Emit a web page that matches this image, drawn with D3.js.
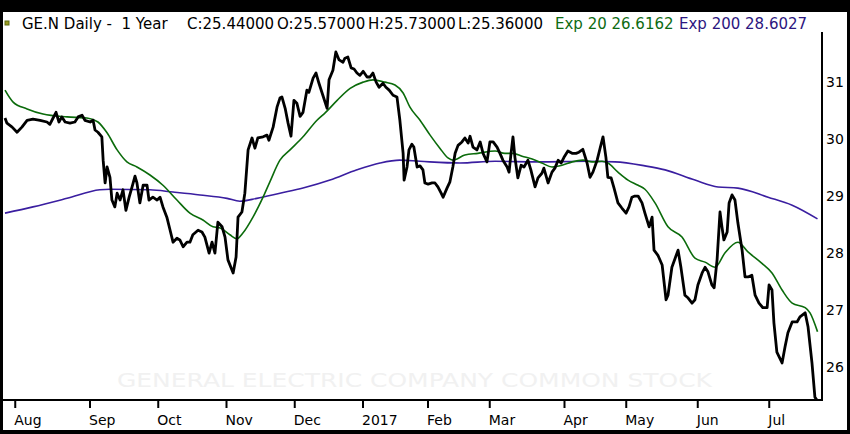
<!DOCTYPE html>
<html>
<head>
<meta charset="utf-8">
<script src="https://cdn.jsdelivr.net/npm/d3@7"></script>
<style>
  body { margin: 0; background: #000; overflow: hidden; }
  svg { display: block; font-family: "DejaVu Sans", sans-serif; }
  .hdr { white-space: pre; }
</style>
</head>
<body>
<svg id="chart" width="850" height="434"></svg>
<script>
// trading-day index (0 = last days of Jul 2016) and close price
var closePts = [
  [0,30.37],[0.6,30.28],[2.2,30.21],[3.7,30.12],[5.2,30.21],[6.8,30.33],[8.6,30.35],[10.8,30.33],[12.9,30.30],[13.8,30.26],
  [14.8,30.37],[15.7,30.47],[16.6,30.30],[17.5,30.39],[18.5,30.30],[20.0,30.28],[21.5,30.30],[22.5,30.39],[23.7,30.42],[24.6,30.33],
  [26.2,30.30],[27.1,30.33],[27.7,30.16],[28.6,30.12],[29.8,30.04],[30.2,29.63],[30.8,29.23],[31.4,29.51],[32.3,29.33],[32.9,28.93],
  [33.8,28.81],[34.5,29.05],[35.4,28.93],[36.3,29.11],[37.2,28.75],[38.2,28.98],[39.1,29.16],[40.0,29.35],[40.6,29.23],[41.5,28.88],
  [42.5,29.19],[43.7,29.19],[44.3,28.93],[45.5,28.98],[46.8,28.93],[47.7,28.98],[48.6,28.81],[49.8,28.63],[50.8,28.40],[51.7,28.19],
  [52.9,28.26],[53.8,28.23],[54.8,28.11],[56.0,28.19],[56.9,28.19],[57.8,28.32],[59.4,28.40],[60.6,28.37],[61.5,28.28],[62.8,28.00],
  [63.7,28.19],[64.6,28.00],[65.5,28.54],[66.8,28.46],[67.7,28.28],[68.6,27.88],[70.2,27.65],[71.1,27.93],[71.7,28.63],[72.9,28.72],
  [73.8,29.05],[74.8,29.81],[76.0,30.02],[76.9,29.84],[77.8,30.02],[79.4,30.04],[80.6,30.07],[81.2,29.98],[82.5,30.21],[83.7,30.56],
  [84.6,30.72],[85.2,30.74],[86.2,30.54],[87.1,30.28],[88.0,30.05],[88.9,30.68],[89.8,30.63],[90.8,30.40],[91.7,30.47],[92.9,30.86],
  [93.5,30.82],[94.8,31.07],[95.7,31.16],[96.6,30.98],[97.8,30.77],[99.1,30.54],[99.7,31.04],[100.9,31.21],[101.8,31.53],[102.8,31.39],
  [104.0,31.35],[104.6,31.42],[105.5,31.44],[106.5,31.25],[107.4,31.23],[108.3,31.16],[109.2,31.12],[110.2,31.19],[111.4,31.09],[112.3,31.09],
  [113.2,31.16],[114.2,31.00],[115.1,30.91],[116.3,30.98],[117.2,30.91],[118.2,30.86],[119.4,30.77],[120.6,30.74],[121.5,30.33],[122.5,29.75],
  [122.8,29.28],[123.7,29.51],[124.3,29.81],[125.2,29.91],[125.8,29.86],[126.8,29.51],[127.7,29.53],[128.6,29.46],[129.2,29.23],[130.2,29.21],
  [131.4,29.23],[132.3,29.23],[133.2,29.16],[134.2,29.05],[134.8,28.98],[136.0,29.14],[136.9,29.25],[137.8,29.51],[138.5,29.75],[139.4,29.89],
  [140.6,29.95],[141.5,30.02],[142.5,29.93],[143.1,30.05],[144.0,29.86],[145.2,29.81],[146.2,29.95],[147.1,29.75],[148.3,29.60],[149.2,29.95],
  [150.2,29.95],[151.4,29.86],[152.3,29.75],[153.2,29.63],[154.5,29.51],[155.1,29.42],[155.7,29.75],[156.3,30.04],[156.9,29.68],[157.8,29.32],
  [158.8,29.54],[159.7,29.51],[160.9,29.63],[161.8,29.46],[163.1,29.16],[164.0,29.32],[165.2,29.40],[165.8,29.49],[167.1,29.23],[168.3,29.42],
  [169.2,29.49],[170.2,29.63],[171.1,29.58],[172.0,29.68],[173.2,29.79],[174.5,29.75],[175.7,29.75],[176.6,29.77],[177.8,29.82],[179.1,29.58],
  [180.0,29.33],[180.9,29.42],[182.2,29.63],[183.1,29.84],[184.0,30.04],[184.9,29.68],[185.5,29.33],[186.5,29.32],[187.4,29.14],[188.6,28.88],
  [189.8,28.79],[191.1,28.70],[192.0,28.81],[192.9,28.98],[193.8,29.00],[194.8,29.00],[196.0,28.88],[196.9,28.70],[198.2,28.46],[199.1,28.63],
  [199.7,28.05],[200.9,27.96],[202.2,27.79],[203.4,27.18],[204.0,27.26],[205.2,27.75],[206.2,27.91],[207.1,28.05],[208.0,27.74],[209.2,27.26],
  [210.2,27.21],[211.4,27.12],[212.3,27.18],[213.2,27.44],[214.5,27.65],[215.4,27.75],[216.3,27.67],[217.5,27.44],[218.2,27.39],[219.1,27.88],
  [220.0,28.72],[220.6,28.46],[221.2,28.23],[222.2,28.37],[222.8,28.88],[223.7,29.02],[224.6,28.93],[225.5,28.53],[226.8,28.05],[227.7,27.58],
  [228.6,27.58],[229.8,27.61],[230.8,27.26],[232.0,27.12],[233.2,27.04],[234.5,27.04],[235.1,27.44],[236.0,27.35],[236.6,26.77],[237.5,26.26],
  [239.1,26.07],[240.0,26.35],[240.9,26.60],[242.2,26.79],[243.7,26.79],[244.6,26.88],[246.2,26.95],[247.1,26.70],[248.3,26.07],[249.2,25.47],
  [249.8,25.42]
];

// Exp 20 average, read at points along the green curve
var ema20Pts = [
  [0,30.86],[2.5,30.65],[6.8,30.53],[11.7,30.44],[19.1,30.39],[25.2,30.37],[28.6,30.30],[31.4,30.11],[34.5,29.81],[37.5,29.60],
  [40.6,29.51],[44.6,29.37],[48.6,29.19],[52.9,28.93],[56.9,28.70],[60.9,28.58],[64.0,28.46],[66.2,28.44],[69.2,28.32],[71.4,28.25],
  [73.2,28.35],[76.3,28.63],[79.4,28.98],[81.5,29.25],[84.6,29.63],[87.7,29.81],[91.7,30.04],[96.0,30.33],[98.5,30.46],[102.2,30.68],
  [106.2,30.89],[110.2,31.00],[113.2,31.04],[116.9,31.00],[120.0,30.95],[122.5,30.81],[124.6,30.56],[127.7,30.33],[130.8,30.07],[133.8,29.84],
  [136.3,29.67],[137.8,29.63],[141.5,29.72],[145.5,29.75],[150.8,29.79],[153.8,29.75],[156.3,29.75],[159.1,29.70],[162.2,29.65],[165.2,29.58],
  [168.3,29.51],[171.4,29.54],[174.5,29.60],[177.8,29.63],[180.6,29.60],[183.7,29.61],[185.5,29.58],[188.6,29.42],[191.7,29.28],[194.8,29.19],
  [196.9,29.12],[200.0,28.88],[204.0,28.46],[208.3,28.28],[212.3,27.91],[215.4,27.84],[218.5,27.75],[221.5,28.00],[225.5,28.19],[228.6,28.02],
  [232.9,27.82],[236.0,27.65],[239.1,27.35],[242.2,27.12],[246.2,27.04],[247.7,26.95],[250,26.62]
];

// Exp 200 average, read at points along the purple curve
var ema200Pts = [
  [0,28.70],[8.6,28.81],[19.1,28.96],[29.2,29.11],[32.3,29.12],[44.6,29.11],[51.7,29.07],[60.0,29.02],[68.3,28.96],[72.3,28.91],
  [77.5,28.96],[84.6,29.05],[91.7,29.14],[100.0,29.28],[108.3,29.46],[115.4,29.58],[121.5,29.63],[127.7,29.61],[140.0,29.58],[150.8,29.61],
  [164.0,29.60],[179.4,29.61],[187.7,29.60],[196.9,29.53],[203.1,29.46],[212.3,29.28],[219.4,29.16],[225.5,29.14],[234.8,28.98],[242.2,28.84],
  [250,28.60]
];

// month ticks: first trading day of each month
var monthTickDays = [3, 26, 47, 68, 89, 110, 130, 149, 172, 191, 213, 235];
var monthLabels = ['Aug', 'Sep', 'Oct', 'Nov', 'Dec', '2017', 'Feb', 'Mar', 'Apr', 'May', 'Jun', 'Jul'];
var priceTicks = [26, 27, 28, 29, 30, 31];

var headerParts = [
  {text: 'GE.N Daily -  1 Year', color: '#000'},
  {text: 'C:25.44000', color: '#000'},
  {text: 'O:25.57000', color: '#000'},
  {text: 'H:25.73000', color: '#000'},
  {text: 'L:25.36000', color: '#000'},
  {text: 'Exp 20 26.6162', color: '#0e6b12'},
  {text: 'Exp 200 28.6027', color: '#2c1680'}
];
var headerX = [22, 187, 277, 368, 458, 555, 679];

var svg = d3.select('#chart');

svg.append('rect').attr('width', 850).attr('height', 434).attr('fill', '#000');
svg.append('rect').attr('x', 3).attr('y', 12).attr('width', 844).attr('height', 418).attr('fill', '#fff');

var x = d3.scaleLinear().domain([0, 250]).range([5, 817.5]);
var y = d3.scaleLinear().domain([25.42, 31.88]).range([400, 32]);

// watermark
svg.append('text')
    .attr('x', 117).attr('y', 387)
    .attr('textLength', 595).attr('lengthAdjust', 'spacingAndGlyphs')
    .style('font-size', '20px')
    .attr('fill', '#f1f1f1')
    .text('GENERAL ELECTRIC COMPANY COMMON STOCK');

// header
svg.append('rect').attr('x', 5).attr('y', 21).attr('width', 4).attr('height', 4)
    .attr('fill', '#9a9a20').attr('stroke', '#5a6a10').attr('stroke-width', 1);
svg.selectAll('.hdr').data(headerParts).enter().append('text')
    .attr('class', 'hdr')
    .attr('x', function(d, i) { return headerX[i]; })
    .attr('y', 29)
    .style('font-size', '15px')
    .attr('fill', function(d) { return d.color; })
    .text(function(d) { return d.text; });

var ptLine = d3.line()
    .x(function(d) { return x(d[0]); })
    .y(function(d) { return y(d[1]); });
var smooth = d3.line()
    .x(function(d) { return x(d[0]); })
    .y(function(d) { return y(d[1]); })
    .curve(d3.curveMonotoneX);

svg.append('path').datum(ema200Pts)
    .attr('d', smooth).attr('fill', 'none')
    .attr('stroke', '#3a1ea0').attr('stroke-width', 1.6);
svg.append('path').datum(ema20Pts)
    .attr('d', smooth).attr('fill', 'none')
    .attr('stroke', '#0b6b0b').attr('stroke-width', 1.6);
svg.append('path').datum(closePts)
    .attr('d', ptLine).attr('fill', 'none')
    .attr('stroke', '#000').attr('stroke-width', 2.8)
    .attr('stroke-linejoin', 'round');

// bottom axis
var xAxis = d3.axisBottom(x)
    .tickValues(monthTickDays)
    .tickSize(8)
    .tickSizeOuter(0)
    .tickFormat(function(d, i) { return monthLabels[i]; });
var gx = svg.append('g').attr('transform', 'translate(0,400)').call(xAxis);
gx.select('.domain').remove();
gx.selectAll('line').attr('stroke', '#000').attr('stroke-width', 2);
gx.selectAll('text')
    .attr('text-anchor', 'start').attr('x', -1).attr('y', 15)
    .style('font-family', '"DejaVu Sans", sans-serif')
    .style('font-size', '14px').attr('fill', '#000');
svg.append('line').attr('x1', 3).attr('x2', 823).attr('y1', 400).attr('y2', 400)
    .attr('stroke', '#000').attr('stroke-width', 2);

// right axis
var yAxis = d3.axisRight(y).tickValues(priceTicks).tickSize(0).tickFormat(d3.format('d'));
var gy = svg.append('g').attr('transform', 'translate(822,0)').call(yAxis);
gy.select('.domain').remove();
gy.selectAll('text')
    .attr('x', 4)
    .style('font-family', '"DejaVu Sans", sans-serif')
    .style('font-size', '14px').attr('fill', '#000');
svg.append('line').attr('x1', 822).attr('x2', 822).attr('y1', 32).attr('y2', 401)
    .attr('stroke', '#000').attr('stroke-width', 2);
</script>
</body>
</html>
